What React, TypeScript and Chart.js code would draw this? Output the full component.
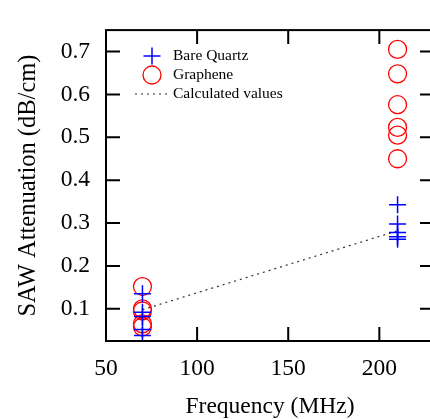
import { useEffect, useRef } from "react";
import { Chart, registerables } from "chart.js";

Chart.register(...registerables);

const seriesNames = ["Bare Quartz", "Graphene", "Calculated values"];
const lowFreq = 70;
const highFreq = 210;
const quartzLow = [0.135, 0.092, 0.082, 0.052, 0.038];
const quartzHigh = [0.343, 0.298, 0.278, 0.268, 0.262];
const grapheneLow = [0.152, 0.1, 0.095, 0.065, 0.058];
const grapheneHigh = [0.705, 0.648, 0.576, 0.523, 0.505, 0.45];
const calcFreq = [70, 210];
const calcValues = [0.098, 0.282];
const xTickValues = [50, 100, 150, 200];
const xTickLabels = ["50", "100", "150", "200"];
const yTickValues = [0.1, 0.2, 0.3, 0.4, 0.5, 0.6, 0.7];
const yTickLabels = ["0.1", "0.2", "0.3", "0.4", "0.5", "0.6", "0.7"];

const FONT = "'Liberation Serif', 'Times New Roman', serif";
const W = 450;
const H = 419;

const toPoints = (x: number, ys: number[]) => ys.map((y) => ({ x, y }));

const framePlugin = {
  id: "frameTicks",
  afterDraw(chart: any) {
    const { ctx, chartArea: a, scales } = chart;
    const xs = scales.x;
    const ys = scales.y;
    const len = 14;
    ctx.save();
    ctx.strokeStyle = "#000";
    ctx.lineWidth = 2;
    ctx.strokeRect(a.left, a.top, a.right - a.left, a.bottom - a.top);
    ctx.beginPath();
    xTickValues.forEach((v) => {
      const px = xs.getPixelForValue(v);
      ctx.moveTo(px, a.bottom);
      ctx.lineTo(px, a.bottom - len);
      ctx.moveTo(px, a.top);
      ctx.lineTo(px, a.top + len);
    });
    yTickValues.forEach((v) => {
      const py = ys.getPixelForValue(v);
      ctx.moveTo(a.left, py);
      ctx.lineTo(a.left + len, py);
      ctx.moveTo(a.right, py);
      ctx.lineTo(a.right - len, py);
    });
    ctx.stroke();

    // legend
    const lx = 152;
    const ty = 56;
    const step = 19;
    ctx.font = `15.5px ${FONT}`;
    ctx.textBaseline = "middle";
    ctx.textAlign = "left";
    chart.data.datasets.forEach((ds: any, i: number) => {
      const y = ty + step * i;
      ctx.beginPath();
      if (i === 0) {
        ctx.strokeStyle = ds.borderColor;
        ctx.lineWidth = 1.5;
        ctx.moveTo(lx - 8.5, y);
        ctx.lineTo(lx + 8.5, y);
        ctx.moveTo(lx, y - 8.5);
        ctx.lineTo(lx, y + 8.5);
        ctx.stroke();
      } else if (i === 1) {
        ctx.strokeStyle = ds.borderColor;
        ctx.lineWidth = 1.3;
        ctx.arc(lx, y, 9, 0, Math.PI * 2);
        ctx.stroke();
      } else {
        ctx.strokeStyle = ds.borderColor;
        ctx.lineWidth = 1.2;
        ctx.setLineDash([2, 4]);
        ctx.moveTo(lx - 17, y);
        ctx.lineTo(lx + 15, y);
        ctx.stroke();
        ctx.setLineDash([]);
      }
      ctx.fillStyle = "#000";
      ctx.fillText(ds.label, 173, y);
    });
    ctx.restore();
  },
};

export default function App() {
  const ref = useRef<HTMLCanvasElement>(null);
  useEffect(() => {
    if (!ref.current) return;
    const chart = new Chart(ref.current, {
      type: "scatter",
      data: {
        datasets: [
          {
            label: seriesNames[0],
            data: [...toPoints(lowFreq, quartzLow), ...toPoints(highFreq, quartzHigh)],
            pointStyle: "cross",
            pointRadius: 8.5,
            pointBorderWidth: 1.5,
            borderColor: "#0000ff",
            backgroundColor: "#0000ff",
          },
          {
            label: seriesNames[1],
            data: [...toPoints(lowFreq, grapheneLow), ...toPoints(highFreq, grapheneHigh)],
            pointStyle: "circle",
            pointRadius: 9,
            pointBorderWidth: 1.3,
            borderColor: "#ff0000",
            backgroundColor: "rgba(0,0,0,0)",
          },
          {
            label: seriesNames[2],
            data: calcFreq.map((x, i) => ({ x, y: calcValues[i] })),
            showLine: true,
            pointRadius: 0,
            borderColor: "#333333",
            borderWidth: 1.2,
            borderDash: [2, 4],
          } as any,
        ],
      },
      options: {
        responsive: false,
        devicePixelRatio: 1,
        animation: false,
        layout: { padding: { left: 0, top: 13, right: W - 434, bottom: 0 } },
        plugins: { legend: { display: false }, tooltip: { enabled: false } },
        scales: {
          x: {
            type: "linear",
            min: 50,
            max: 230,
            afterBuildTicks: (s: any) => {
              s.ticks = xTickValues.map((v) => ({ value: v }));
            },
            afterFit: (s: any) => {
              s.height = H - 341;
            },
            grid: { display: false, drawTicks: false },
            border: { display: false },
            ticks: {
              color: "#000",
              font: { family: FONT, size: 23.5 },
              padding: 14,
              maxRotation: 0,
              callback: (_v: any, i: number) => xTickLabels[i],
            },
            title: {
              display: true,
              text: "Frequency (MHz)",
              color: "#000",
              font: { family: FONT, size: 23.5, lineHeight: 1 },
              padding: 0,
            },
          },
          y: {
            type: "linear",
            min: 0.025,
            max: 0.75,
            afterBuildTicks: (s: any) => {
              s.ticks = yTickValues.map((v) => ({ value: v }));
            },
            afterFit: (s: any) => {
              s.width = 106;
            },
            grid: { display: false, drawTicks: false },
            border: { display: false },
            ticks: {
              color: "#000",
              font: { family: FONT, size: 23.5 },
              padding: 16,
              callback: (_v: any, i: number) => yTickLabels[i],
            },
            title: {
              display: true,
              text: "SAW Attenuation (dB/cm)",
              color: "#000",
              font: { family: FONT, size: 24.5, lineHeight: 1 },
              padding: 16,
            },
          },
        },
      },
      plugins: [framePlugin],
    });
    return () => chart.destroy();
  }, []);
  return (
    <div
      style={{
        position: "fixed",
        left: 0,
        top: 0,
        width: 430,
        height: 419,
        overflow: "hidden",
        background: "#fff",
      }}
    >
      <canvas ref={ref} width={W} height={H} style={{ display: "block" }} />
    </div>
  );
}
